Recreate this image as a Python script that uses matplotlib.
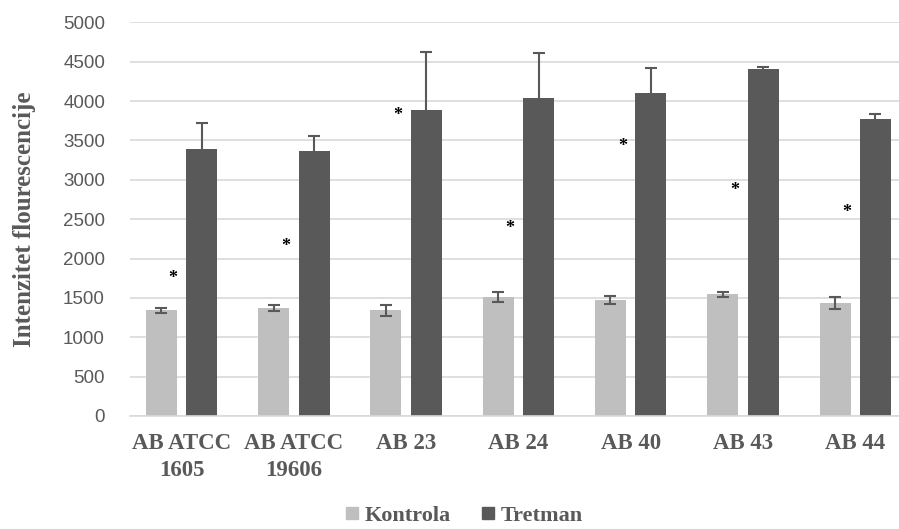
import numpy as np
import matplotlib
matplotlib.use("Agg")
import matplotlib.pyplot as plt
from matplotlib.lines import Line2D

# Fluorescence intensity per strain, control vs treatment
strains = ["AB ATCC\n1605", "AB ATCC\n19606", "AB 23", "AB 24", "AB 40", "AB 43", "AB 44"]
kontrola = [1340, 1375, 1340, 1515, 1475, 1545, 1440]
kontrola_err = [35, 37, 75, 65, 50, 35, 75]
tretman = [3390, 3370, 3880, 4040, 4100, 4410, 3775]
tretman_err = [325, 185, 740, 565, 325, 25, 65]
star_y = [1740, 2150, 3820, 2375, 3425, 2865, 2580]

LIGHT = "#bfbfbf"
DARK = "#595959"
serif = ["Liberation Serif", "DejaVu Serif"]

fig = plt.figure(figsize=(8.99, 5.29), dpi=100)
ax = fig.add_axes([130 / 899, 113 / 529, 769 / 899, 393.7 / 529])

x = np.arange(len(strains))
off = 0.18
w = 0.276
ax.bar(x - off, kontrola, w, color=LIGHT, zorder=2)
ax.bar(x + off, tretman, w, color=DARK, zorder=2)
ax.errorbar(x - off, kontrola, yerr=kontrola_err, fmt="none", ecolor=DARK,
            elinewidth=1.5, capsize=4.5, capthick=1.5, zorder=3)
ax.errorbar(x + off, tretman, yerr=tretman_err, fmt="none", ecolor=DARK,
            elinewidth=1.5, capsize=4.5, capthick=1.5, zorder=3)

# significance markers
for xi, yi in zip(x, star_y):
    ax.text(xi - 0.075, yi, "*", ha="center", va="center", fontsize=13,
            fontweight="bold", color="black", family=serif, zorder=4)

ax.set_xlim(-0.46, 6.39)
ax.set_ylim(0, 5000)
ax.set_yticks(np.arange(0, 5001, 500))
ax.grid(axis="y", color="#d9d9d9", linewidth=1.2, zorder=0)
ax.set_axisbelow(True)
for s in ["top", "right", "left"]:
    ax.spines[s].set_visible(False)
ax.spines["bottom"].set_color("#d9d9d9")
ax.spines["bottom"].set_linewidth(1.2)

ax.tick_params(axis="y", length=0, pad=18, labelsize=13.5, labelcolor=DARK)
ax.tick_params(axis="x", length=0, pad=12)
for lab in ax.get_yticklabels():
    lab.set_family(["Liberation Sans", "DejaVu Sans"])
ax.set_xticks(x)
ax.set_xticklabels(strains, family=serif, fontweight="bold", fontsize=16.5,
                   color=DARK, linespacing=1.4)

ax.set_ylabel("Intenzitet flourescencije", family=serif, fontweight="bold",
              fontsize=18, color=DARK)
ax.yaxis.set_label_coords(-0.122, 0.5)

handles = [Line2D([], [], marker="s", linestyle="none", markersize=9,
                  markerfacecolor=LIGHT, markeredgecolor=LIGHT),
           Line2D([], [], marker="s", linestyle="none", markersize=9,
                  markerfacecolor=DARK, markeredgecolor=DARK)]
fig.legend(handles, ["Kontrola", "Tretman"], loc="center",
           bbox_to_anchor=(464 / 899, 1 - 516 / 529), ncol=2, frameon=False,
           prop={"family": serif, "weight": "bold", "size": 16},
           handlelength=0.6, handletextpad=0.25, columnspacing=1.4,
           labelcolor=DARK, borderpad=0.1)

fig.savefig("out.png", dpi=100)
